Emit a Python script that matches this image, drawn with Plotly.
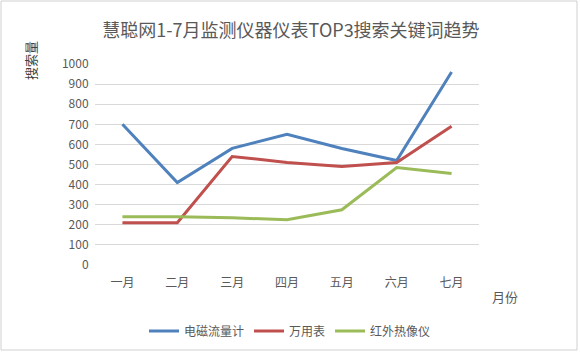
import plotly.graph_objects as go

months = ["一月", "二月", "三月", "四月", "五月", "六月", "七月"]
flowmeter = [700, 410, 580, 650, 580, 520, 960]
multimeter = [210, 210, 540, 510, 490, 510, 690]
thermal = [240, 240, 235, 225, 275, 485, 455]
y_ticks = [0, 100, 200, 300, 400, 500, 600, 700, 800, 900, 1000]

FONT = "Noto Sans CJK SC"
GRAY = "#595959"

fig = go.Figure()
for name, vals, color in [("电磁流量计", flowmeter, "#4F81BD"),
                          ("万用表", multimeter, "#C0504D"),
                          ("红外热像仪", thermal, "#9BBB59")]:
    fig.add_trace(go.Scatter(x=months, y=vals, name=name, mode="lines",
                             line=dict(color=color, width=3)))

L, R, T, B = 95, 101, 64, 87
W, H = 580, 352
pw, ph = W - L - R, H - T - B

fig.update_layout(
    width=W, height=H,
    margin=dict(l=L, r=R, t=T, b=B, autoexpand=False),
    paper_bgcolor="white", plot_bgcolor="white",
    font=dict(family=FONT, color=GRAY, size=11),
    title=dict(text="慧聪网1-7月监测仪器仪表TOP3搜索关键词趋势", x=(291 - L) / pw, xref="paper",
               xanchor="center", y=1 - 31 / H, yanchor="middle",
               font=dict(size=18, color=GRAY, family=FONT)),
    showlegend=True,
    legend=dict(orientation="h", x=(290 - L) / pw, xanchor="center",
                y=(H - B - 331) / ph, yanchor="middle",
                font=dict(size=12, color=GRAY, family=FONT),
                itemwidth=30, tracegroupgap=0, bgcolor="rgba(0,0,0,0)"),
    xaxis=dict(type="category", range=[-0.5, 6.5], showgrid=False, showline=False,
               ticks="outside", ticklen=7, tickcolor="rgba(0,0,0,0)",
               tickfont=dict(size=12, color=GRAY), zeroline=False),
    yaxis=dict(range=[0, 1000], tickvals=y_ticks, showgrid=True, gridcolor="#D9D9D9",
               gridwidth=1, zeroline=False, showline=False,
               ticks="outside", ticklen=3, tickcolor="rgba(0,0,0,0)",
               tickfont=dict(size=12, color=GRAY)),
    annotations=[
        dict(text="搜索量", textangle=-90, x=(31 - L) / pw, y=(H - B - 61) / ph,
             xref="paper", yref="paper", xanchor="center", yanchor="middle",
             showarrow=False, font=dict(size=13, color="#404040", family=FONT)),
        dict(text="月份", x=(505 - L) / pw, y=(H - B - 296) / ph, xref="paper", yref="paper",
             xanchor="center", yanchor="middle",
             showarrow=False, font=dict(size=13, color=GRAY, family=FONT)),
    ],
)

fig.add_shape(type="rect", xref="paper", yref="paper",
              x0=(1 - L) / pw, x1=(577 - L) / pw, y0=(H - B - 350) / ph, y1=(H - B - 1) / ph,
              line=dict(color="#D0D0D0", width=1), fillcolor="rgba(0,0,0,0)", layer="below")

fig.write_html("out.html")
